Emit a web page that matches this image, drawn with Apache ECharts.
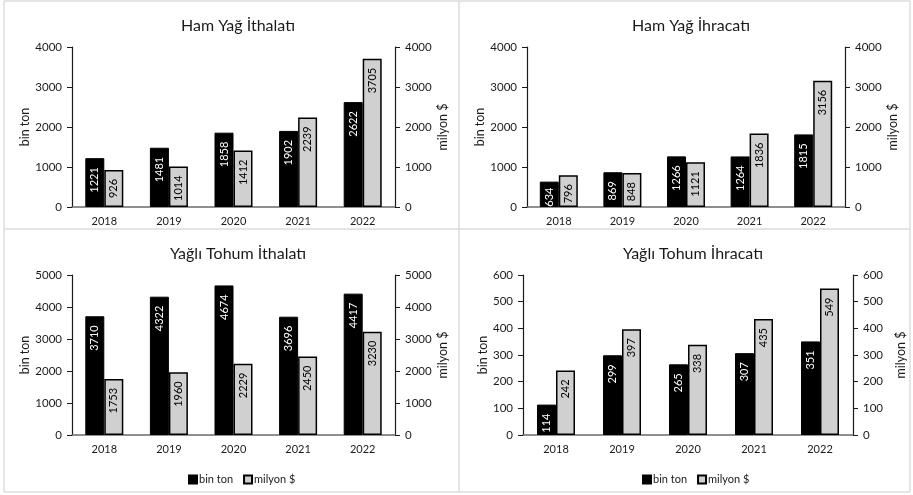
<!DOCTYPE html>
<html>
<head>
<meta charset="utf-8">
<script src="https://cdn.jsdelivr.net/npm/echarts@6/dist/echarts.min.js"></script>
<style>
html,body{margin:0;padding:0;background:#fff;}
#c{width:913px;height:495px;}
</style>
</head>
<body>
<div id="c"></div>
<script>
const years = ['2018','2019','2020','2021','2022'];
const titles = ['Ham Yağ İthalatı','Ham Yağ İhracatı','Yağlı Tohum İthalatı','Yağlı Tohum İhracatı'];
const seriesNames = ['bin ton','milyon $'];
const hamIthalatTon = [1221,1481,1858,1902,2622];
const hamIthalatUsd = [926,1014,1412,2239,3705];
const hamIhracatTon = [634,869,1266,1264,1815];
const hamIhracatUsd = [796,848,1121,1836,3156];
const tohumIthalatTon = [3710,4322,4674,3696,4417];
const tohumIthalatUsd = [1753,1960,2229,2450,3230];
const tohumIhracatTon = [114,299,265,307,351];
const tohumIhracatUsd = [242,397,338,435,549];
const axisMax = [4000,4000,5000,600];
const axisInterval = [1000,1000,1000,100];

const tonData = [hamIthalatTon, hamIhracatTon, tohumIthalatTon, tohumIhracatTon];
const usdData = [hamIthalatUsd, hamIhracatUsd, tohumIthalatUsd, tohumIhracatUsd];

const FONT = 'Lato';
const grids = [
  {left:72, top:47, width:323, height:160},
  {left:527, top:47, width:318, height:160},
  {left:72, top:275, width:323, height:160},
  {left:523, top:275, width:330, height:160}
];
const titlePos = [{x:233, y:13},{x:686, y:13},{x:233, y:241},{x:688, y:241}];

const option = {
  animation:false,
  textStyle:{fontFamily:FONT},
  title: titles.map((t,i)=>({
    text:t, left:titlePos[i].x, top:titlePos[i].y, textAlign:'center',
    textStyle:{fontFamily:FONT, fontSize:16, fontWeight:'normal', color:'#1a1a1a'}
  })),
  legend: [183, 637].map(x=>({
    data:seriesNames, top:469, left:x,
    itemWidth:8, itemHeight:8, itemGap:10, icon:'rect',
    textStyle:{fontFamily:FONT, fontSize:11, color:'#1a1a1a', padding:[0,0,0,-3]}
  })),
  grid: grids,
  xAxis: grids.map((g,i)=>({
    type:'category', gridIndex:i, data:years,
    axisLine:{lineStyle:{color:'#6b6b6b', width:1.5}},
    axisTick:{alignWithLabel:true, length:4, lineStyle:{color:'#6b6b6b'}},
    axisLabel:{margin:9, fontFamily:FONT, fontSize:11, color:'#1a1a1a'}
  })),
  yAxis: [],
  series: [],
  graphic: [
    {type:'line', shape:{x1:4,y1:1,x2:910,y2:1}, style:{stroke:'#dcdcdc', lineWidth:1.5}},
    {type:'line', shape:{x1:4,y1:229,x2:910,y2:229}, style:{stroke:'#dcdcdc', lineWidth:1.5}},
    {type:'line', shape:{x1:4,y1:492,x2:910,y2:492}, style:{stroke:'#dcdcdc', lineWidth:1.5}},
    {type:'line', shape:{x1:4,y1:1,x2:4,y2:492}, style:{stroke:'#dcdcdc', lineWidth:1.5}},
    {type:'line', shape:{x1:459,y1:1,x2:459,y2:492}, style:{stroke:'#dcdcdc', lineWidth:1.5}},
    {type:'line', shape:{x1:910,y1:1,x2:910,y2:492}, style:{stroke:'#dcdcdc', lineWidth:1.5}}
  ]
};

grids.forEach((g,i)=>{
  ['left','right'].forEach((pos,k)=>{
    option.yAxis.push({
      type:'value', gridIndex:i, position:pos, min:0, max:axisMax[i], interval:axisInterval[i],
      name: k===0 ? 'bin ton' : 'milyon $', nameLocation:'middle',
      nameGap: k===0 ? 32 : 41, nameRotate:90,
      nameTextStyle:{fontFamily:FONT, fontSize:12.5, color:'#1a1a1a'},
      splitLine:{show:false},
      axisLine:{show:true, lineStyle:{color:'#1a1a1a', width:1.2}},
      axisTick:{show:true, length:5, lineStyle:{color:'#1a1a1a'}},
      axisLabel:{margin:10, fontFamily:FONT, fontSize:11.5, color:'#1a1a1a', formatter:v=>String(v)}
    });
  });
  const mk = (vals, c) => vals.map(v=>{
    const barPx = v / axisMax[i] * g.height;
    const textPx = String(v).length * 5.8;
    const d = Math.max(2, Math.min(9, barPx - textPx - 2));
    return {value:v, label:{show:true, position:'insideTop', rotate:90, align:'right', verticalAlign:'middle',
      distance:d, fontFamily:FONT, fontSize:11, color:c}};
  });
  option.series.push({
    type:'bar', name:seriesNames[0], xAxisIndex:i, yAxisIndex:2*i, data:mk(tonData[i], '#fff'),
    barWidth:19, barGap:'0%',
    itemStyle:{color:'#000', borderColor:'#000', borderWidth:1}
  });
  option.series.push({
    type:'bar', name:seriesNames[1], xAxisIndex:i, yAxisIndex:2*i+1, data:mk(usdData[i], '#000'),
    barWidth:19, barGap:'0%',
    itemStyle:{color:'#d0d0d0', borderColor:'#000', borderWidth:1.5}
  });
});

const chart = echarts.init(document.getElementById('c'));
chart.setOption(option);
</script>
</body>
</html>
